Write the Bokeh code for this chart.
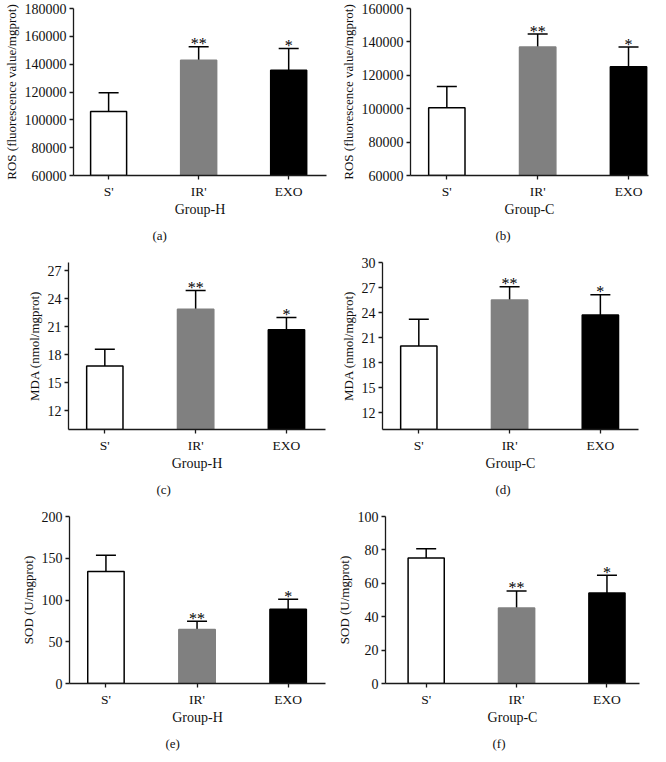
from bokeh.plotting import figure
from bokeh.layouts import column, row
from bokeh.models import (FixedTicker, Whisker, TeeHead, ColumnDataSource, Title,
                          BasicTickFormatter, Range1d)
from bokeh.embed import file_html
from bokeh.resources import INLINE

# ---------------- data ----------------
groups = ["S'", "IR'", "EXO"]
bar_fill = ["#ffffff", "#808080", "#000000"]
bar_line = ["#000000", "#808080", "#000000"]
stars = ["", "**", "*"]

ros_h_mean = [105900, 142800, 135700]
ros_h_sd = [13600, 9700, 15500]
ros_c_mean = [100600, 136900, 125100]
ros_c_sd = [12700, 7800, 11800]
mda_h_mean = [16.8, 22.9, 20.7]
mda_h_sd = [1.8, 2.0, 1.3]
mda_c_mean = [20.0, 25.5, 23.7]
mda_c_sd = [3.2, 1.6, 2.45]
sod_h_mean = [134.0, 64.7, 89.0]
sod_h_sd = [19.7, 9.8, 11.8]
sod_c_mean = [75.1, 45.2, 54.2]
sod_c_sd = [5.6, 10.2, 10.6]

ros_h_ticks = [60000, 80000, 100000, 120000, 140000, 160000, 180000]
ros_c_ticks = [60000, 80000, 100000, 120000, 140000, 160000]
mda_h_ticks = [12, 15, 18, 21, 24, 27]
mda_c_ticks = [12, 15, 18, 21, 24, 27, 30]
sod_h_ticks = [0, 50, 100, 150, 200]
sod_c_ticks = [0, 20, 40, 60, 80, 100]

ros_label = "ROS (fluorescence value/mgprot)"
mda_label = "MDA (nmol/mgprot)"
sod_label = "SOD (U/mgprot)"

FONT = "Liberation Serif"


def panel(mean, sd, ylabel, xlabel, caption, yr, yticks, xr,
          width, height, bl, bt, bb, br, cap_off):
    xs = list(range(len(groups)))
    upper = [m + s for m, s in zip(mean, sd)]
    src = ColumnDataSource(dict(x=xs, top=mean, upper=upper, fill=bar_fill,
                                line=bar_line, star=stars, name=groups))
    p = figure(width=width, height=height, output_backend="svg",
               toolbar_location=None, x_range=Range1d(*xr), y_range=Range1d(*yr),
               min_border_left=bl, min_border_top=bt, min_border_bottom=bb,
               min_border_right=br)
    p.outline_line_color = None
    p.grid.visible = False
    p.background_fill_color = "white"
    p.border_fill_color = "white"

    p.vbar(x="x", width=0.4, top="top", bottom=yr[0], source=src,
           fill_color="fill", line_color="line", line_width=1.5)
    w = Whisker(base="x", upper="upper", lower="top", source=src,
                line_color="black", line_width=1.5,
                upper_head=TeeHead(size=20, line_color="black", line_width=1.5),
                lower_head=None)
    p.add_layout(w)
    p.text(x="x", y="upper", text="star", source=src, text_align="center",
           text_baseline="alphabetic", y_offset=-3, text_font_size="16px",
           text_color="black", text_font={"value": FONT})

    for ax in (p.xaxis[0], p.yaxis[0]):
        ax.axis_line_color = "#1a1a1a"
        ax.axis_line_width = 1.3
        ax.major_tick_line_color = "#1a1a1a"
        ax.major_tick_line_width = 1.3
        ax.major_tick_out = 4
        ax.major_tick_in = 0
        ax.minor_tick_line_color = None
        ax.major_label_text_font = FONT
        ax.major_label_text_color = "#111111"
        ax.axis_label_text_font = FONT
        ax.axis_label_text_font_style = "normal"
        ax.axis_label_text_color = "#111111"
        ax.axis_label_text_font_size = "13px"
        ax.major_label_standoff = 3
        ax.axis_label_standoff = 3

    p.xaxis.ticker = FixedTicker(ticks=xs)
    p.xaxis.major_label_overrides = {i: g for i, g in zip(xs, groups)}
    p.xaxis.major_label_text_font_size = "13.5px"
    p.xaxis.major_label_standoff = 4
    p.xaxis.axis_label_standoff = 0
    p.xaxis.axis_label_text_font_size = "14px"
    p.xaxis.axis_label = xlabel

    p.yaxis.ticker = FixedTicker(ticks=yticks)
    p.yaxis.formatter = BasicTickFormatter(use_scientific=False)
    p.yaxis.major_label_text_font_size = "14px"
    p.yaxis.axis_label = ylabel

    t = Title(text=caption, align="left", offset=cap_off, text_font=FONT,
              text_font_size="13px", text_font_style="normal", text_color="#111111",
              standoff=12)
    p.add_layout(t, "below")
    return p


W, H = 333, 254
pa = panel(ros_h_mean, ros_h_sd, ros_label, "Group-H", "(a)", (60000, 180000), ros_h_ticks,
           (-0.39, 2.42), W, H, 70, 8, 79, 7, 79)
pb = panel(ros_c_mean, ros_c_sd, ros_label, "Group-C", "(b)", (60000, 160000), ros_c_ticks,
           (-0.40, 2.22), W, H, 77, 8, 79, 18, 85)
pc = panel(mda_h_mean, mda_h_sd, mda_label, "Group-H", "(c)", (10, 27.9), mda_h_ticks,
           (-0.40, 2.43), W, H, 68, 8, 79, 8, 88)
pd = panel(mda_c_mean, mda_c_sd, mda_label, "Group-C", "(d)", (10, 30), mda_c_ticks,
           (-0.40, 2.42), W, H, 49, 8, 79, 28, 113)
pe = panel(sod_h_mean, sod_h_sd, sod_label, "Group-H", "(e)", (0, 200), sod_h_ticks,
           (-0.40, 2.41), W, H, 69, 8, 79, 8, 96)
pf = panel(sod_c_mean, sod_c_sd, sod_label, "Group-C", "(f)", (0, 100), sod_c_ticks,
           (-0.45, 2.36), W, H, 50, 8, 79, 27, 107)

layout = column(row(pa, pb, spacing=0), row(pc, pd, spacing=0), row(pe, pf, spacing=0),
                spacing=0)

open("out.html", "w").write(file_html(layout, INLINE))
